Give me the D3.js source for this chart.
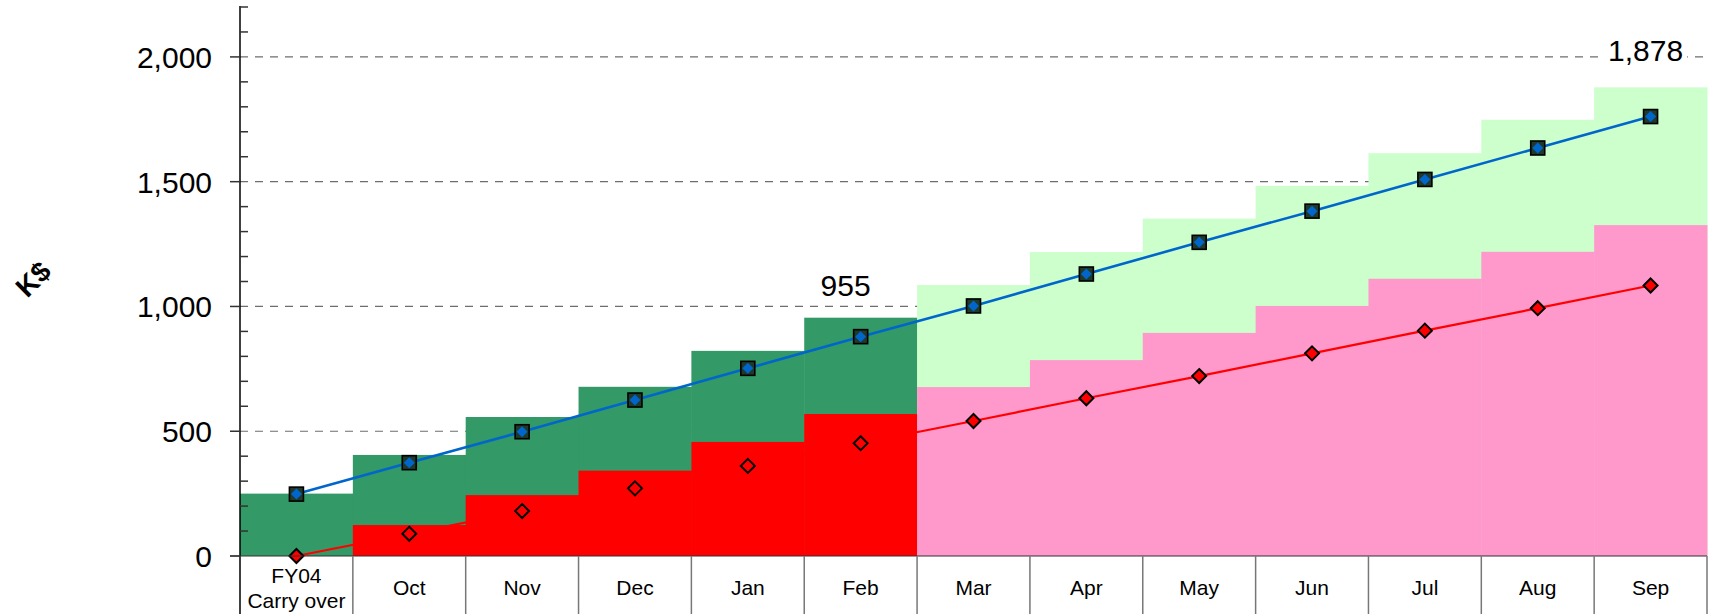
<!DOCTYPE html>
<html>
<head>
<meta charset="utf-8">
<script src="https://cdn.jsdelivr.net/npm/d3@7"></script>
<style>
    body { margin: 0; background: #fff; }
    svg { display: block; font-family: Arial, "Liberation Sans", sans-serif; }
</style>
</head>
<body>
<script>
(function(){

// chart data
var months = ["FY04|Carry over", "Oct", "Nov", "Dec", "Jan", "Feb", "Mar", "Apr", "May", "Jun", "Jul", "Aug", "Sep"];
var budgetTotal = [250, 405, 557, 678, 822, 955, 1086, 1218, 1352, 1483, 1614, 1748, 1878]; // green steps
var spentTotal  = [0, 124, 244, 342, 457, 569, 677, 785, 894, 1002, 1111, 1219, 1326];     // red / pink steps
var planLine    = [248, 374, 498, 625, 752, 879, 1002, 1130, 1257, 1382, 1509, 1635, 1761]; // blue line
var spendLine   = [0, 89, 180, 271, 361, 452, 541, 632, 721, 812, 903, 993, 1084];        // red line
var actualCount = 6; // FY04 .. Feb are actuals, rest forecast
var yTicks = [0, 500, 1000, 1500, 2000];
var calloutIdx = [5, 12];
var calloutText = ["955", "1,878"];

// dimensions
var width = 1712,
    height = 614,
    plotLeft = 240,
    plotRight = 1707,
    plotTop = 7,
    plotBottom = 556;

// label nudges (px) for the callouts
var calloutDx = [-15, -5],
    calloutDy = [22, 26];

var svg = d3.select("body")
    .append("svg")
    .attr("width", width)
    .attr("height", height);

var x = d3.scaleBand()
    .domain(d3.range(months.length))
    .range([plotLeft, plotRight])
    .padding(0);

var y = d3.scaleLinear()
    .domain([0, 2200])
    .range([plotBottom, plotTop]);

// dashed gridlines behind the bars
svg.append("g")
    .selectAll("line")
    .data(yTicks.filter(function(d){ return d > 0; }))
    .enter()
    .append("line")
    .attr("x1", plotLeft)
    .attr("x2", plotRight)
    .attr("y1", function(d){ return y(d); })
    .attr("y2", function(d){ return y(d); })
    .attr("stroke", "#6e6e6e")
    .attr("stroke-width", 1.2)
    .attr("stroke-dasharray", "8,7");

// budget steps
svg.append("g")
    .selectAll("rect")
    .data(budgetTotal)
    .enter()
    .append("rect")
    .attr("x", function(d, i){ return x(i); })
    .attr("y", function(d){ return y(d); })
    .attr("width", x.bandwidth() + 0.5)
    .attr("height", function(d){ return y(0) - y(d); })
    .attr("fill", function(d, i){ return i < actualCount ? "#339966" : "#ccffcc"; });

// spent steps
svg.append("g")
    .selectAll("rect")
    .data(spentTotal)
    .enter()
    .append("rect")
    .attr("x", function(d, i){ return x(i); })
    .attr("y", function(d){ return y(d); })
    .attr("width", x.bandwidth() + 0.5)
    .attr("height", function(d){ return y(0) - y(d); })
    .attr("fill", function(d, i){ return i < actualCount ? "#ff0000" : "#ff99cc"; });

// lines
var cx = function(i){ return x(i) + x.bandwidth() / 2; };

var line = d3.line()
    .x(function(d, i){ return cx(i); })
    .y(function(d){ return y(d); });

svg.append("path")
    .datum(spendLine)
    .attr("d", line)
    .attr("fill", "none")
    .attr("stroke", "#ff0000")
    .attr("stroke-width", 2.2);

svg.append("path")
    .datum(planLine)
    .attr("d", line)
    .attr("fill", "none")
    .attr("stroke", "#0066cc")
    .attr("stroke-width", 2.6);

// blue markers: black square + blue diamond
var blueMarks = svg.append("g")
    .selectAll("g")
    .data(planLine)
    .enter()
    .append("g")
    .attr("transform", function(d, i){ return "translate(" + cx(i) + "," + y(d) + ")"; });

blueMarks.append("rect")
    .attr("x", -7)
    .attr("y", -7)
    .attr("width", 14)
    .attr("height", 14)
    .attr("fill", "#1f3a2a")
    .attr("stroke", "#000")
    .attr("stroke-width", 1.6);

blueMarks.append("path")
    .attr("d", "M0,-5.5L5.5,0L0,5.5L-5.5,0Z")
    .attr("fill", "#0066cc");

// red diamond markers
svg.append("g")
    .selectAll("path")
    .data(spendLine)
    .enter()
    .append("path")
    .attr("transform", function(d, i){ return "translate(" + cx(i) + "," + y(d) + ")"; })
    .attr("d", "M0,-7L7,0L0,7L-7,0Z")
    .attr("fill", "#ff0000")
    .attr("stroke", "#000")
    .attr("stroke-width", 2);

// callout labels with white backing
calloutIdx.forEach(function(idx, k){
    var g = svg.append("g");
    var bg = g.append("rect").attr("fill", "#fff");
    var t = g.append("text")
        .attr("x", cx(idx) + calloutDx[k])
        .attr("y", y(budgetTotal[idx]) - calloutDy[k])
        .attr("text-anchor", "middle")
        .attr("font-size", 30)
        .attr("fill", "#000")
        .text(calloutText[k]);
    var b = t.node().getBBox();
    bg.attr("x", b.x - 4).attr("y", b.y + 4).attr("width", b.width + 8).attr("height", b.height - 6);
});

// y axis
svg.append("line")
    .attr("x1", plotLeft).attr("x2", plotLeft)
    .attr("y1", plotTop - 1).attr("y2", height)
    .attr("stroke", "#000")
    .attr("stroke-width", 1.5);

// x baseline
svg.append("line")
    .attr("x1", plotLeft - 10).attr("x2", plotRight)
    .attr("y1", y(0)).attr("y2", y(0))
    .attr("stroke", "#333")
    .attr("stroke-width", 1.2);

// minor ticks every 100, inside
svg.append("g")
    .selectAll("line")
    .data(d3.range(100, 2201, 100).filter(function(d){ return d % 500 !== 0; }))
    .enter()
    .append("line")
    .attr("x1", plotLeft).attr("x2", plotLeft + 8)
    .attr("y1", function(d){ return y(d); })
    .attr("y2", function(d){ return y(d); })
    .attr("stroke", "#333")
    .attr("stroke-width", 1.5);

// major ticks, outside
svg.append("g")
    .selectAll("line")
    .data(yTicks)
    .enter()
    .append("line")
    .attr("x1", plotLeft - 10).attr("x2", plotLeft)
    .attr("y1", function(d){ return y(d); })
    .attr("y2", function(d){ return y(d); })
    .attr("stroke", "#333")
    .attr("stroke-width", 1.5);

svg.append("g")
    .selectAll("text")
    .data(yTicks)
    .enter()
    .append("text")
    .attr("x", 212)
    .attr("y", function(d){ return y(d) + 11; })
    .attr("text-anchor", "end")
    .attr("font-size", 30)
    .attr("fill", "#000")
    .text(d3.format(","));

// axis title
svg.append("text")
    .attr("transform", "translate(40,286) rotate(-45)")
    .attr("text-anchor", "middle")
    .attr("font-size", 28)
    .attr("font-weight", "bold")
    .text("K$");

// category dividers
svg.append("g")
    .selectAll("line")
    .data(d3.range(1, months.length + 1))
    .enter()
    .append("line")
    .attr("x1", function(i){ return plotLeft + i * x.bandwidth(); })
    .attr("x2", function(i){ return plotLeft + i * x.bandwidth(); })
    .attr("y1", y(0))
    .attr("y2", height)
    .attr("stroke", "#777")
    .attr("stroke-width", 1.5);

// category labels
var cats = svg.append("g")
    .selectAll("text")
    .data(months)
    .enter()
    .append("text")
    .attr("text-anchor", "middle")
    .attr("font-size", 21)
    .attr("fill", "#000");

cats.each(function(d, i){
    var parts = d.split("|");
    var t = d3.select(this);
    if (parts.length === 1) {
        t.attr("x", cx(i)).attr("y", 595).text(d);
    } else {
        t.append("tspan").attr("x", cx(i)).attr("y", 583).text(parts[0]);
        t.append("tspan").attr("x", cx(i)).attr("y", 608).text(parts[1]);
    }
});

})();
</script>
</body>
</html>
